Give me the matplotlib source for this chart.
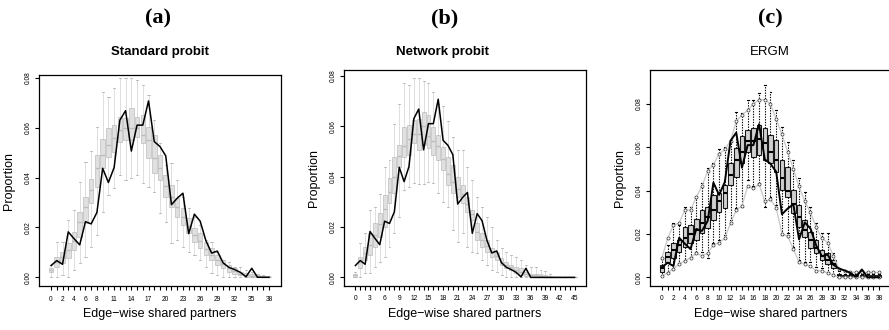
import matplotlib
matplotlib.use("Agg")
import matplotlib.pyplot as plt

# observed proportions (black line), shared by all three panels
observed = [0.0047, 0.0067, 0.0052, 0.0182, 0.0155, 0.0130, 0.0223, 0.0214, 0.0260,
            0.0437, 0.0380, 0.0440, 0.0630, 0.0668, 0.0506, 0.0610, 0.0610, 0.0707,
            0.0544, 0.0524, 0.0487, 0.0291, 0.0317, 0.0337, 0.0175, 0.0253, 0.0225,
            0.0147, 0.0097, 0.0105, 0.0058, 0.0040, 0.0031, 0.0020, 0.0002, 0.0036,
            0.0, 0.0, 0.0]

# (a) standard probit, categories 0..38
med_a = [0.0030, 0.0060, 0.0080, 0.0110, 0.0145, 0.0220, 0.0280, 0.0350, 0.0440, 0.0490,
         0.0530, 0.0560, 0.0590, 0.0600, 0.0600, 0.0600, 0.0570, 0.0550, 0.0480, 0.0440,
         0.0365, 0.0320, 0.0280, 0.0240, 0.0205, 0.0170, 0.0145, 0.0115, 0.0090, 0.0070,
         0.0055, 0.0037, 0.0025, 0.0015, 0.0010, 0.0006, 0.0004, 0.0002, 0.0001]
q3_a = [0.0039, 0.0083, 0.0103, 0.0139, 0.0183, 0.0263, 0.0323, 0.0395, 0.0490, 0.0553,
        0.0597, 0.0610, 0.0644, 0.0640, 0.0677, 0.0644, 0.0650, 0.0604, 0.0570, 0.0490,
        0.0410, 0.0370, 0.0316, 0.0276, 0.0236, 0.0196, 0.0176, 0.0143, 0.0116, 0.0090,
        0.0070, 0.0050, 0.0036, 0.0023, 0.0016, 0.0012, 0.0008, 0.0005, 0.0003]
q1_a = [0.0021, 0.0043, 0.0056, 0.0076, 0.0110, 0.0163, 0.0216, 0.0296, 0.0363, 0.0437,
        0.0483, 0.0503, 0.0543, 0.0550, 0.0550, 0.0563, 0.0537, 0.0477, 0.0420, 0.0390,
        0.0323, 0.0280, 0.0243, 0.0210, 0.0176, 0.0143, 0.0116, 0.0090, 0.0070, 0.0050,
        0.0036, 0.0023, 0.0013, 0.0008, 0.0003, 0.0, 0.0, 0.0, 0.0]
hi_a = [0.0050, 0.0143, 0.0143, 0.0230, 0.0270, 0.0383, 0.0463, 0.0507, 0.0604, 0.0744,
        0.0724, 0.0757, 0.0797, 0.0800, 0.0797, 0.0790, 0.0770, 0.0730, 0.0630, 0.0537,
        0.0450, 0.0460, 0.0390, 0.0323, 0.0276, 0.0243, 0.0210, 0.0150, 0.0143, 0.0103,
        0.0070, 0.0063, 0.0043, 0.0043, 0.0030, 0.0020, 0.0015, 0.0010, 0.0005]
lo_a = [0.0, 0.0, 0.0010, 0.0, 0.0030, 0.0056, 0.0083, 0.0123, 0.0170, 0.0260,
        0.0330, 0.0357, 0.0410, 0.0390, 0.0397, 0.0410, 0.0377, 0.0363, 0.0340, 0.0256,
        0.0223, 0.0136, 0.0150, 0.0123, 0.0103, 0.0090, 0.0070, 0.0043, 0.0016, 0.0010,
        0.0, 0.0, 0.0, 0.0, 0.0, 0.0, 0.0, 0.0, 0.0]
labels_a = [0, 2, 4, 6, 8, 11, 14, 17, 20, 23, 26, 29, 32, 35, 38]

# (b) network probit, categories 0..45
observed_b = observed + [0.0, 0.0, 0.0, 0.0, 0.0, 0.0, 0.0]
med_b = [0.0008, 0.0060, 0.0095, 0.0130, 0.0170, 0.0210, 0.0270, 0.0340, 0.0400, 0.0480,
         0.0520, 0.0550, 0.0570, 0.0570, 0.0600, 0.0560, 0.0540, 0.0520, 0.0470, 0.0410,
         0.0380, 0.0350, 0.0330, 0.0290, 0.0250, 0.0180, 0.0150, 0.0125, 0.0100, 0.0085,
         0.0060, 0.0050, 0.0040, 0.0030, 0.0020, 0.0012, 0.0008, 0.0008, 0.0006, 0.0003,
         0.0002, 0.0, 0.0, 0.0, 0.0, 0.0]
q3_b = [0.0013, 0.0082, 0.0122, 0.0175, 0.0214, 0.0257, 0.0327, 0.0393, 0.0479, 0.0525,
        0.0598, 0.0605, 0.0624, 0.0630, 0.0657, 0.0644, 0.0598, 0.0565, 0.0519, 0.0479,
        0.0446, 0.0400, 0.0366, 0.0320, 0.0267, 0.0214, 0.0175, 0.0148, 0.0115, 0.0102,
        0.0075, 0.0062, 0.0049, 0.0042, 0.0036, 0.0022, 0.0015, 0.0015, 0.0012, 0.0008,
        0.0005, 0.0, 0.0, 0.0, 0.0, 0.0]
q1_b = [0.0003, 0.0036, 0.0069, 0.0089, 0.0122, 0.0161, 0.0201, 0.0294, 0.0333, 0.0439,
        0.0479, 0.0485, 0.0532, 0.0505, 0.0525, 0.0512, 0.0485, 0.0466, 0.0426, 0.0366,
        0.0333, 0.0320, 0.0294, 0.0260, 0.0228, 0.0148, 0.0122, 0.0102, 0.0082, 0.0069,
        0.0049, 0.0036, 0.0029, 0.0016, 0.0009, 0.0005, 0.0003, 0.0003, 0.0, 0.0,
        0.0, 0.0, 0.0, 0.0, 0.0, 0.0]
hi_b = [0.0022, 0.0138, 0.0175, 0.0267, 0.0280, 0.0330, 0.0440, 0.0466, 0.0610, 0.0690,
        0.0770, 0.0763, 0.0790, 0.0790, 0.0780, 0.0770, 0.0737, 0.0690, 0.0680, 0.0620,
        0.0558, 0.0505, 0.0505, 0.0440, 0.0386, 0.0320, 0.0280, 0.0240, 0.0200, 0.0148,
        0.0115, 0.0102, 0.0090, 0.0082, 0.0069, 0.0050, 0.0040, 0.0040, 0.0030, 0.0025,
        0.0015, 0.0, 0.0, 0.0, 0.0, 0.0]
lo_b = [0.0, 0.0003, 0.0016, 0.0016, 0.0040, 0.0060, 0.0080, 0.0120, 0.0175, 0.0240,
        0.0347, 0.0360, 0.0375, 0.0370, 0.0370, 0.0380, 0.0375, 0.0333, 0.0300, 0.0280,
        0.0188, 0.0142, 0.0175, 0.0122, 0.0102, 0.0095, 0.0069, 0.0050, 0.0030, 0.0022,
        0.0009, 0.0003, 0.0, 0.0, 0.0, 0.0, 0.0, 0.0, 0.0, 0.0,
        0.0, 0.0, 0.0, 0.0, 0.0, 0.0]
labels_b = [0, 3, 6, 9, 12, 15, 18, 21, 24, 27, 30, 33, 36, 39, 42, 45]

# (c) ERGM, categories 0..38
med_c = [0.0042, 0.0095, 0.0125, 0.0150, 0.0180, 0.0200, 0.0220, 0.0250, 0.0280, 0.0310,
         0.0350, 0.0390, 0.0470, 0.0540, 0.0580, 0.0630, 0.0630, 0.0640, 0.0620, 0.0580,
         0.0540, 0.0460, 0.0400, 0.0340, 0.0280, 0.0220, 0.0170, 0.0135, 0.0100, 0.0080,
         0.0060, 0.0005, 0.0003, 0.0003, 0.0003, 0.0003, 0.0003, 0.0003, 0.0003]
q3_c = [0.0057, 0.0118, 0.0160, 0.0172, 0.0234, 0.0240, 0.0268, 0.0310, 0.0326, 0.0380,
        0.0388, 0.0426, 0.0526, 0.0595, 0.0650, 0.0680, 0.0688, 0.0703, 0.0688, 0.0657,
        0.0634, 0.0542, 0.0510, 0.0403, 0.0334, 0.0265, 0.0210, 0.0172, 0.0126, 0.0110,
        0.0080, 0.0015, 0.0010, 0.0010, 0.0010, 0.0010, 0.0010, 0.0010, 0.0010]
q1_c = [0.0026, 0.0072, 0.0088, 0.0118, 0.0142, 0.0157, 0.0172, 0.0203, 0.0226, 0.0265,
        0.0303, 0.0318, 0.0426, 0.0465, 0.0526, 0.0580, 0.0557, 0.0565, 0.0542, 0.0526,
        0.0488, 0.0403, 0.0372, 0.0295, 0.0234, 0.0188, 0.0134, 0.0110, 0.0080, 0.0062,
        0.0042, 0.0, 0.0, 0.0, 0.0, 0.0, 0.0, 0.0, 0.0]
hi_c = [0.0083, 0.0150, 0.0250, 0.0240, 0.0326, 0.0326, 0.0370, 0.0434, 0.0503, 0.0526,
        0.0590, 0.0600, 0.0626, 0.0765, 0.0757, 0.0818, 0.0818, 0.0850, 0.0888, 0.0857,
        0.0772, 0.0695, 0.0626, 0.0540, 0.0457, 0.0395, 0.0326, 0.0250, 0.0203, 0.0203,
        0.0110, 0.0030, 0.0015, 0.0015, 0.0015, 0.0015, 0.0015, 0.0015, 0.0015]
lo_c = [0.0006, 0.0026, 0.0040, 0.0065, 0.0080, 0.0095, 0.0118, 0.0118, 0.0088, 0.0157,
        0.0172, 0.0195, 0.0265, 0.0318, 0.0326, 0.0450, 0.0420, 0.0434, 0.0326, 0.0372,
        0.0334, 0.0195, 0.0203, 0.0142, 0.0080, 0.0072, 0.0072, 0.0049, 0.0042, 0.0026,
        0.0015, 0.0, 0.0, 0.0, 0.0, 0.0, 0.0, 0.0, 0.0]
upper_c = [0.0090, 0.0180, 0.0240, 0.0250, 0.0310, 0.0310, 0.0370, 0.0420, 0.0490, 0.0520,
           0.0570, 0.0590, 0.0630, 0.0720, 0.0750, 0.0770, 0.0800, 0.0820, 0.0820, 0.0800,
           0.0730, 0.0660, 0.0580, 0.0500, 0.0420, 0.0350, 0.0300, 0.0230, 0.0180, 0.0160,
           0.0100, 0.0040, 0.0030, 0.0025, 0.0022, 0.0022, 0.0022, 0.0022, 0.0022]
lower_c = [0.0008, 0.0020, 0.0040, 0.0060, 0.0075, 0.0090, 0.0110, 0.0100, 0.0110, 0.0150,
           0.0160, 0.0180, 0.0250, 0.0310, 0.0330, 0.0420, 0.0410, 0.0430, 0.0350, 0.0360,
           0.0320, 0.0200, 0.0190, 0.0130, 0.0070, 0.0060, 0.0050, 0.0030, 0.0030, 0.0020,
           0.0010, 0.0, 0.0, 0.0, 0.0, 0.0, 0.0, 0.0, 0.0]
labels_c = list(range(0, 39, 2))

SANS = ["Liberation Sans", "DejaVu Sans"]
plt.rcParams["font.family"] = SANS


def make_stats(med, q1, q3, lo, hi):
    return [dict(med=m, q1=a, q3=b, whislo=l, whishi=h, fliers=[])
            for m, a, b, l, h in zip(med, q1, q3, lo, hi)]


def style_axis(ax, n, labels, xlim, ylim):
    ax.set_xlim(*xlim)
    ax.set_ylim(*ylim)
    ax.set_xticks(range(n))
    ax.set_xticklabels([str(k) if k in labels else "" for k in range(n)], fontsize=4.8)
    ax.set_yticks([0.0, 0.02, 0.04, 0.06, 0.08])
    ax.set_yticklabels(["0.00", "0.02", "0.04", "0.06", "0.08"], fontsize=4.8,
                       rotation=90, va="center")
    ax.tick_params(direction="out", length=3, width=0.8, pad=2)
    ax.tick_params(axis="x", pad=4)
    for s in ax.spines.values():
        s.set_linewidth(0.9)
    ax.set_xlabel("Edge\u2212wise shared partners", fontsize=9, labelpad=4)
    ax.set_ylabel("Proportion", fontsize=9, labelpad=7)


def light_boxes(ax, stats):
    ax.bxp(stats, positions=range(len(stats)), widths=0.8, patch_artist=True,
           showfliers=False,
           boxprops=dict(facecolor="#e0e0e0", edgecolor="#cbcbcb", linewidth=0.7),
           medianprops=dict(color="#bdbdbd", linewidth=1.0),
           whiskerprops=dict(color="#b3b3b3", linewidth=0.6, linestyle=(0, (1.2, 1.2))),
           capprops=dict(color="#b3b3b3", linewidth=0.6), capwidths=0.4)


fig = plt.figure(figsize=(8.89, 3.30), dpi=100)
ax_a = fig.add_axes([39 / 889, 44 / 330, 242 / 889, 211 / 330])
ax_b = fig.add_axes([344 / 889, 44.3 / 330, 242 / 889, 215.7 / 330])
ax_c = fig.add_axes([650 / 889, 44.3 / 330, 241 / 889, 215.7 / 330])

# (a)
light_boxes(ax_a, make_stats(med_a, q1_a, q3_a, lo_a, hi_a))
ax_a.plot(range(len(observed)), observed, color="black", lw=1.1, zorder=5)
style_axis(ax_a, len(med_a), labels_a, (-2.1, 40.1), (-0.0035, 0.0811))

# (b)
light_boxes(ax_b, make_stats(med_b, q1_b, q3_b, lo_b, hi_b))
ax_b.plot(range(len(observed_b)), observed_b, color="black", lw=1.1, zorder=5)
style_axis(ax_b, len(med_b), labels_b, (-2.34, 47.34), (-0.0033, 0.0823))

# (c)
ax_c.bxp(make_stats(med_c, q1_c, q3_c, lo_c, hi_c), positions=range(len(med_c)),
         widths=0.8, patch_artist=True, showfliers=False,
         boxprops=dict(facecolor="#d0d0d0", edgecolor="#1a1a1a", linewidth=0.8),
         medianprops=dict(color="black", linewidth=1.5),
         whiskerprops=dict(color="black", linewidth=0.8, linestyle=(0, (1.2, 1.2))),
         capprops=dict(color="black", linewidth=0.8), capwidths=0.35)
xs = range(len(med_c))
ax_c.plot(xs, upper_c, color="#c8c8c8", lw=0.9, zorder=4)
ax_c.plot(xs, lower_c, color="#c8c8c8", lw=0.9, zorder=4)
ax_c.plot(xs, upper_c, ls="none", marker="o", ms=2.2, mfc="white", mec="#333333",
          mew=0.5, zorder=4.5)
ax_c.plot(xs, lower_c, ls="none", marker="o", ms=2.2, mfc="white", mec="#333333",
          mew=0.5, zorder=4.5)
ax_c.plot(range(len(observed)), observed, color="black", lw=1.4, zorder=5)
style_axis(ax_c, len(med_c), labels_c, (-2.1, 40.1), (-0.0039, 0.0957))

# panel letters and titles
serif = ["Liberation Serif", "DejaVu Serif"]
for x, lab in [(158, "(a)"), (445, "(b)"), (770, "(c)")]:
    fig.text(x / 889, 1 - 18 / 330, lab, ha="center", va="center", fontsize=16,
             fontweight="bold", family=serif)
fig.text(160 / 889, 1 - 52 / 330, "Standard probit", ha="center", va="center",
         fontsize=9.5, fontweight="bold")
fig.text(443 / 889, 1 - 52 / 330, "Network probit", ha="center", va="center",
         fontsize=9.5, fontweight="bold")
fig.text(770 / 889, 1 - 52 / 330, "ERGM", ha="center", va="center", fontsize=9.5)

fig.savefig("out.png", dpi=100)
